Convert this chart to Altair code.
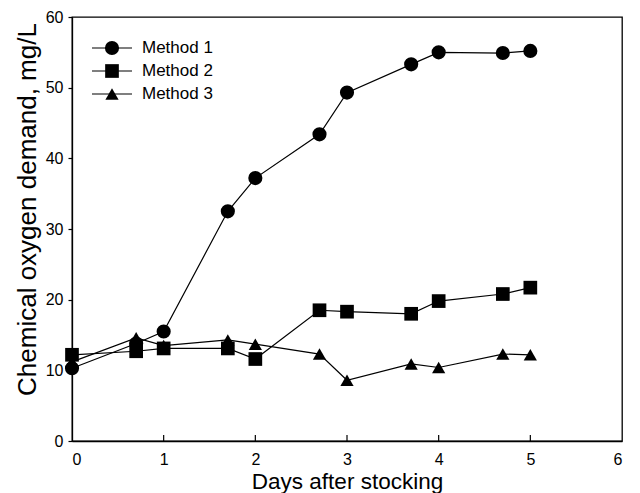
import altair as alt
import pandas as pd

days = [0, 0.7, 1, 1.7, 2, 2.7, 3, 3.7, 4, 4.7, 5]
method1 = [10.3, 13.8, 15.5, 32.5, 37.2, 43.4, 49.3, 53.3, 55.0, 54.9, 55.2]
method2 = [12.2, 12.7, 13.1, 13.1, 11.6, 18.5, 18.3, 18.0, 19.8, 20.8, 21.7]
method3 = [11.2, 14.6, 13.5, 14.3, 13.7, 12.3, 8.6, 10.9, 10.4, 12.3, 12.2]
series = ["Method 1", "Method 2", "Method 3"]
shapes = ["circle", "square", "triangle-up"]
x_ticks = [0, 1, 2, 3, 4, 5, 6]
y_ticks = [0, 10, 20, 30, 40, 50, 60]

rows = []
for name, vals in zip(series, [method1, method2, method3]):
    for i, (d, v) in enumerate(zip(days, vals)):
        rows.append({"series": name, "day": d, "cod": v, "i": i})
df = pd.DataFrame(rows)
leg = pd.DataFrame({"series": series})
ticks_df = pd.DataFrame({"tick": x_ticks[1:-1]})

FONT = "Liberation Sans"
shape_scale = alt.Scale(domain=series, range=shapes)
size_scale = alt.Scale(domain=series, range=[200, 175, 270])

xenc = alt.X("day:Q", scale=alt.Scale(domain=[0, 6], nice=False),
             axis=alt.Axis(values=x_ticks, format="d", tickSize=0, labelPadding=10,
                           labelFontSize=16, grid=False, title="Days after stocking",
                           titleFontSize=22.5, titleFontWeight="normal", titleY=47,
                           titleBaseline="alphabetic"))
yenc = alt.Y("cod:Q", scale=alt.Scale(domain=[0, 60], nice=False),
             axis=alt.Axis(values=y_ticks, tickSize=4, labelPadding=5, labelFontSize=16,
                           grid=False, title="Chemical oxygen demand, mg/L",
                           titleFontSize=26, titleFontWeight="normal", titleX=-37,
                           titleY=192, titleBaseline="alphabetic", titleAngle=270))

base = alt.Chart(df)
lines = base.mark_line(color="black", strokeWidth=1.2).encode(
    x=xenc, y=yenc, detail="series:N", order="i:Q")
points = base.mark_point(filled=True, color="black", opacity=1).encode(
    x="day:Q", y="cod:Q",
    shape=alt.Shape("series:N", scale=shape_scale, legend=None),
    size=alt.Size("series:O", scale=size_scale, legend=None))

xt = alt.Chart(ticks_df).mark_rule(color="black", strokeWidth=1.2).encode(
    x="tick:Q", y=alt.value(424), y2=alt.value(418))

main = alt.layer(lines, points, xt)

ly = alt.Y("series:N", scale=alt.Scale(domain=series, range=[19.5, 88.5]), axis=None)
leg_line = alt.Chart(leg).mark_rule(color="black", strokeWidth=1.2).encode(
    y=ly, x=alt.value(20), x2=alt.value(60))
leg_pt = alt.Chart(leg).mark_point(filled=True, color="black", opacity=1).encode(
    y=ly, x=alt.value(40),
    shape=alt.Shape("series:N", scale=shape_scale, legend=None),
    size=alt.Size("series:O", scale=size_scale, legend=None))
leg_txt = alt.Chart(leg).mark_text(align="left", baseline="middle", fontSize=17,
                                   font=FONT, color="black").encode(
    y=ly, x=alt.value(70), text="series:N")

legend = alt.layer(leg_line, leg_pt, leg_txt)

chart = alt.layer(main, legend).resolve_scale(y="independent").properties(
    width=550, height=424,
    autosize=alt.AutoSizeParams(type="none"),
    padding={"left": 72, "top": 17, "right": 18, "bottom": 52},
    background="white",
).configure_view(stroke="black", strokeWidth=1.3).configure_axis(
    domainColor="black", domainWidth=1.3, tickColor="black", tickWidth=1.2,
    labelColor="black", titleColor="black", labelFont=FONT, titleFont=FONT,
).configure_text(font=FONT)

chart.save("out.html", embed_options={"renderer": "svg", "actions": False})
